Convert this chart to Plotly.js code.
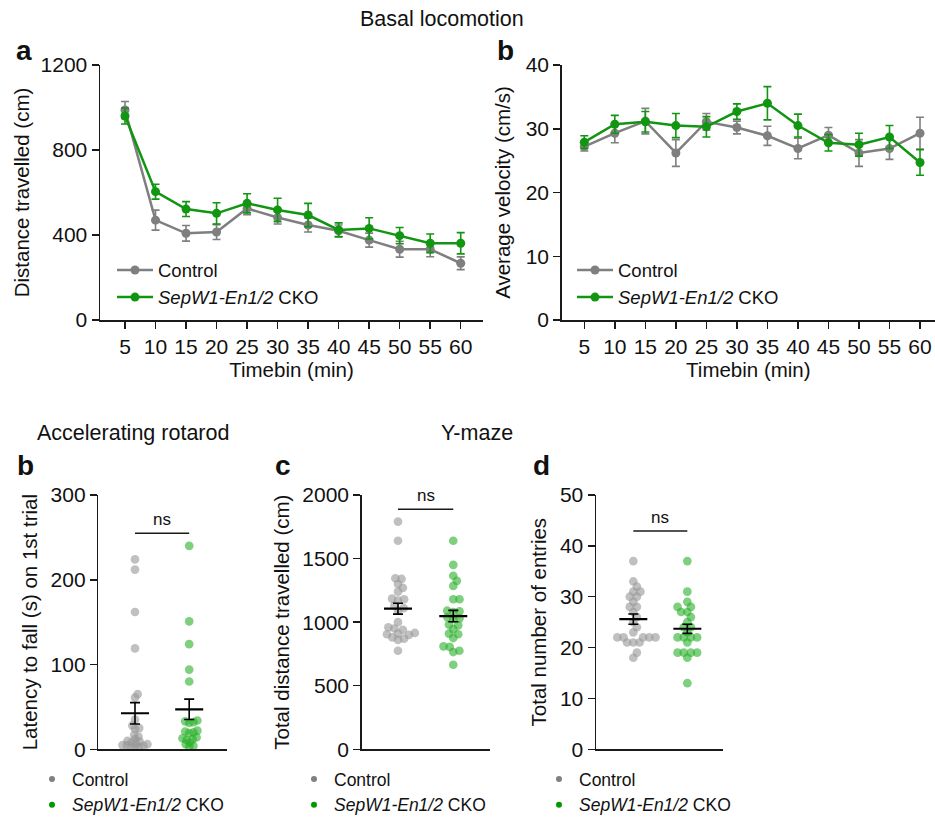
<!DOCTYPE html>
<html>
<head>
<meta charset="utf-8">
<script src="https://cdn.plot.ly/plotly-3.0.1.min.js"></script>
<style>html,body{margin:0;padding:0;background:#fff;}#chart{width:935px;height:818px;}</style>
</head>
<body>
<div id="chart"></div>
<script>
// ---------- DATA ----------
const timebins = [5,10,15,20,25,30,35,40,45,50,55,60];
const xTickLabels = ['5','10','15','20','25','30','35','40','45','50','55','60'];
const groupNames = ['Control', '<i>SepW1-En1/2</i> CKO'];

// Panel a: distance travelled (cm)
const distCtrl    = [988, 470, 408, 414, 525, 482, 447, 420, 376, 333, 333, 267];
const distCtrlErr = [40, 47, 37, 35, 30, 30, 33, 27, 33, 37, 35, 30];
const distCko     = [960, 604, 522, 502, 549, 518, 494, 424, 431, 397, 361, 361];
const distCkoErr  = [38, 35, 35, 50, 45, 55, 55, 33, 50, 38, 44, 50];

// Panel b (top): average velocity (cm/s)
const velCtrl    = [27.2, 29.3, 31.2, 26.2, 31.1, 30.2, 28.9, 26.9, 29.0, 26.2, 26.9, 29.3];
const velCtrlErr = [0.7, 1.5, 2.0, 2.1, 1.3, 1.0, 1.5, 1.6, 1.2, 2.1, 1.7, 2.5];
const velCko     = [27.9, 30.7, 31.1, 30.5, 30.3, 32.7, 34.0, 30.5, 27.8, 27.5, 28.7, 24.7];
const velCkoErr  = [1.0, 1.4, 1.6, 1.9, 1.6, 1.2, 2.6, 1.8, 1.3, 1.8, 1.8, 2.0];

// Panel b (bottom): latency to fall (s) on 1st trial
const rotCtrl = [224, 212, 162, 119, 65, 61, 35, 28, 25, 24, 17, 15, 12, 10, 9, 8, 7, 6, 5, 5, 4, 3, 3, 2];
const rotCko  = [240, 151, 124, 94, 80, 34, 33, 32, 31, 22, 21, 20, 19, 14, 13, 12, 11, 8, 6, 4, 3];
const rotMean = [42.5, 47.2];
const rotSem  = [12.6, 12.0];

// Panel c: total distance travelled (cm), Y-maze
const ymDistCtrl = [1790, 1640, 1345, 1340, 1300, 1270, 1240, 1185, 1180, 1170, 1130, 1110, 1090, 1000, 960, 950, 940, 915, 910, 905, 900, 880, 870, 860, 775];
const ymDistCko  = [1640, 1450, 1365, 1325, 1285, 1180, 1180, 1090, 1085, 1080, 1040, 1030, 1025, 980, 975, 945, 910, 905, 875, 810, 805, 775, 765, 665];
const ymDistMean = [1106, 1048];
const ymDistSem  = [43, 45];

// Panel d: total number of entries, Y-maze
const ymEntCtrl = [37, 33, 32, 31, 31, 30, 30, 29, 28, 28, 27, 26, 25, 24, 23, 22, 22, 22, 22, 22, 21, 21, 21, 19, 18];
const ymEntCko  = [37, 31, 29, 28, 28, 27, 27, 26, 25, 24, 24, 23, 22, 22, 22, 22, 21, 19, 19, 19, 19, 18, 13];
const ymEntMean = [25.6, 23.7];
const ymEntSem  = [1.0, 0.9];

// significance labels
const sigLabels = ['ns', 'ns', 'ns'];
const sigLevels = [255, 1887, 42.9];

// ---------- STYLE ----------
const FONT = 'Liberation Sans, Arial, Helvetica, sans-serif';
const GRAY = '#7f7f7f', GREEN = '#119611';
const GRAY_PT = 'rgba(150,150,150,0.6)', GREEN_PT = 'rgba(40,175,40,0.6)';
const AX = '#1a1a1a';
const W = 935, H = 818;
const px = v => v / W, py = v => 1 - v / H;

// beeswarm offsets computed in pixel space
function swarm(values, pxPerY, pxPerX, diam) {
  const order = values.map((v, i) => i).sort((a, b) => values[a] - values[b]);
  const placed = [];
  const out = new Array(values.length).fill(0);
  for (const i of order) {
    const y = values[i] * pxPerY;
    const cands = [0];
    for (const p of placed) {
      const dy = Math.abs(p.y - y);
      if (dy < diam) {
        const dx = Math.sqrt(diam * diam - dy * dy);
        cands.push(p.x + dx + 0.01, p.x - dx - 0.01);
      }
    }
    cands.sort((a, b) => Math.abs(a) - Math.abs(b));
    let chosen = 0;
    for (const c of cands) {
      if (placed.every(p => (p.x - c) ** 2 + (p.y - y) ** 2 >= diam * diam - 1e-6)) { chosen = c; break; }
    }
    placed.push({x: chosen, y});
    out[i] = chosen / pxPerX;
  }
  return out;
}

const traces = [];
// top panels
function lineTraces(xa, ya, yC, eC, yK, eK, legend) {
  traces.push({x: timebins, y: yC, xaxis: xa, yaxis: ya, type: 'scatter', mode: 'lines+markers',
    name: groupNames[0], legend: legend,
    line: {color: GRAY, width: 2.5}, marker: {color: GRAY, size: 9},
    error_y: {type: 'data', array: eC, visible: true, color: GRAY, thickness: 1.6, width: 4}});
  traces.push({x: timebins, y: yK, xaxis: xa, yaxis: ya, type: 'scatter', mode: 'lines+markers',
    name: groupNames[1], legend: legend,
    line: {color: GREEN, width: 2.5}, marker: {color: GREEN, size: 9},
    error_y: {type: 'data', array: eK, visible: true, color: GREEN, thickness: 1.6, width: 4}});
}
lineTraces('x', 'y', distCtrl, distCtrlErr, distCko, distCkoErr, 'legend');
lineTraces('x2', 'y2', velCtrl, velCtrlErr, velCko, velCkoErr, 'legend2');

// bottom panels
const DOT = 8.7;
function dotPanel(xa, ya, ctrl, cko, mean, sem, pxPerY, pxPerX, sep, legend) {
  const oc = swarm(ctrl, pxPerY, pxPerX, sep);
  const ok = swarm(cko, pxPerY, pxPerX, sep);
  traces.push({x: oc.map(d => 0 + d), y: ctrl, xaxis: xa, yaxis: ya, type: 'scatter', mode: 'markers',
    showlegend: false, hoverinfo: 'y', marker: {color: GRAY_PT, size: DOT}});
  traces.push({x: ok.map(d => 1 + d), y: cko, xaxis: xa, yaxis: ya, type: 'scatter', mode: 'markers',
    showlegend: false, hoverinfo: 'y', marker: {color: GREEN_PT, size: DOT}});
  traces.push({x: [0, 1], y: mean, xaxis: xa, yaxis: ya, type: 'scatter', mode: 'markers',
    showlegend: false, marker: {symbol: 'line-ew', size: 20, color: '#000', line: {color: '#000', width: 2.2}},
    error_y: {type: 'data', array: sem, visible: true, color: '#000', thickness: 1.6, width: 5}});
  traces.push({x: [null], y: [null], xaxis: xa, yaxis: ya, type: 'scatter', mode: 'markers',
    name: groupNames[0], legend: legend, marker: {color: '#808080', size: 6}});
  traces.push({x: [null], y: [null], xaxis: xa, yaxis: ya, type: 'scatter', mode: 'markers',
    name: groupNames[1], legend: legend, marker: {color: '#009a00', size: 6}});
}
const BOT_H = 254.3;
dotPanel('x3', 'y3', rotCtrl, rotCko, rotMean, rotSem, BOT_H / 300, 54.2, 4.3, 'legend3');
dotPanel('x4', 'y4', ymDistCtrl, ymDistCko, ymDistMean, ymDistSem, BOT_H / 2000, 55.3, 6.2, 'legend4');
dotPanel('x5', 'y5', ymEntCtrl, ymEntCko, ymEntMean, ymEntSem, BOT_H / 50, 54.0, 6.2, 'legend5');

// ---------- LAYOUT ----------
const tickFont = {family: FONT, size: 21, color: '#111'};
const titleFont = {family: FONT, size: 20.5, color: '#111'};
function xTop(dom, range, anchor) {
  return {domain: dom, range: range, anchor: anchor, showline: true, linecolor: AX, linewidth: 1.5, ticks: 'outside',
    ticklen: 7, tickwidth: 1.5, tickcolor: AX, tickvals: timebins, ticktext: xTickLabels,
    showgrid: false, zeroline: false, tickfont: tickFont, fixedrange: true, automargin: false,
    title: {text: 'Timebin (min)', font: titleFont, standoff: 6}};
}
function yAx(dom, range, dtick, title, anchor, standoff) {
  return {domain: dom, range: range, showline: true, linecolor: AX, linewidth: 1.5, ticks: 'outside',
    ticklen: 7, tickwidth: 1.5, tickcolor: AX, dtick: dtick, tick0: 0, showgrid: false, zeroline: false,
    tickfont: tickFont, anchor: anchor, fixedrange: true, automargin: false,
    title: {text: title, font: titleFont, standoff: standoff}};
}
function xBot(dom, range, anchor) {
  return {domain: dom, range: range, showline: true, linecolor: AX, linewidth: 1.5, ticks: '',
    showticklabels: false, showgrid: false, zeroline: false, anchor: anchor, fixedrange: true, automargin: false};
}
const topY = [py(320), py(65)];
const botY = [py(749.3), py(495)];
function legendAt(xp, yp) {
  return {x: px(xp), y: py(yp), xanchor: 'left', yanchor: 'top', bgcolor: 'rgba(0,0,0,0)',
    font: {family: FONT, size: 18.5, color: '#111'}, itemwidth: 36, tracegroupgap: 0,
    itemclick: false, itemdoubleclick: false};
}
const legBot = (xp) => ({x: px(xp), y: py(761), xanchor: 'left', yanchor: 'top', bgcolor: 'rgba(0,0,0,0)',
  font: {family: FONT, size: 17.5, color: '#111'}, itemclick: false, itemdoubleclick: false});

const shapes = [], annotations = [];
[['x3', 'y3'], ['x4', 'y4'], ['x5', 'y5']].forEach((ax, i) => {
  shapes.push({type: 'line', xref: ax[0], yref: ax[1], x0: 0, x1: 1, y0: sigLevels[i], y1: sigLevels[i],
    line: {color: AX, width: 1.5}});
  annotations.push({xref: ax[0], yref: ax[1], x: 0.5, y: sigLevels[i], text: sigLabels[i], showarrow: false,
    yanchor: 'bottom', yshift: 2, font: {family: FONT, size: 17, color: '#111'}});
});
const headings = [
  {text: 'Basal locomotion', x: 442, y: 19, size: 21.5, bold: false},
  {text: 'Accelerating rotarod', x: 133, y: 433, size: 21.5, bold: false},
  {text: 'Y-maze', x: 477, y: 433, size: 21.5, bold: false},
  {text: 'a', x: 24, y: 50, size: 28, bold: true},
  {text: 'b', x: 506, y: 50, size: 28, bold: true},
  {text: 'b', x: 25, y: 465, size: 28, bold: true},
  {text: 'c', x: 283, y: 465, size: 28, bold: true},
  {text: 'd', x: 541, y: 465, size: 28, bold: true}
];
headings.forEach(h => annotations.push({xref: 'paper', yref: 'paper', x: px(h.x), y: py(h.y),
  xanchor: 'center', yanchor: 'middle', showarrow: false,
  text: h.bold ? '<b>' + h.text + '</b>' : h.text,
  font: {family: FONT, size: h.size, color: '#111'}}));

const layout = {
  width: W, height: H, margin: {l: 0, r: 0, t: 0, b: 0, pad: 0, autoexpand: false},
  paper_bgcolor: '#fff', plot_bgcolor: 'rgba(0,0,0,0)',
  showlegend: true, font: {family: FONT, color: '#111'},
  xaxis: xTop([px(100), px(483)], [0.904, 63.65], 'y'),
  yaxis: yAx(topY, [0, 1200], 400, 'Distance travelled (cm)', 'x', 5),
  xaxis2: xTop([px(561.7), 1], [1.298, 62.455], 'y2'),
  yaxis2: yAx(topY, [0, 40], 10, 'Average velocity (cm/s)', 'x2', 9),
  xaxis3: xBot([px(98.3), px(226.7)], [-0.677, 1.692], 'y3'),
  yaxis3: yAx(botY, [0, 300], 100, 'Latency to fall (s) on 1st trial', 'x3', 7),
  xaxis4: xBot([px(361.7), px(490)], [-0.656, 1.664], 'y4'),
  yaxis4: yAx(botY, [0, 2000], 500, 'Total distance travelled (cm)', 'x4', 7),
  xaxis5: xBot([px(596), px(723.3)], [-0.691, 1.666], 'y5'),
  yaxis5: yAx(botY, [0, 50], 10, 'Total number of entries', 'x5', 8),
  legend: legendAt(112, 251.5),
  legend2: legendAt(572, 251.5),
  legend3: legBot(32),
  legend4: legBot(294),
  legend5: legBot(539),
  shapes: shapes,
  annotations: annotations
};

Plotly.newPlot('chart', traces, layout, {displayModeBar: false, staticPlot: true});
</script>
</body>
</html>
